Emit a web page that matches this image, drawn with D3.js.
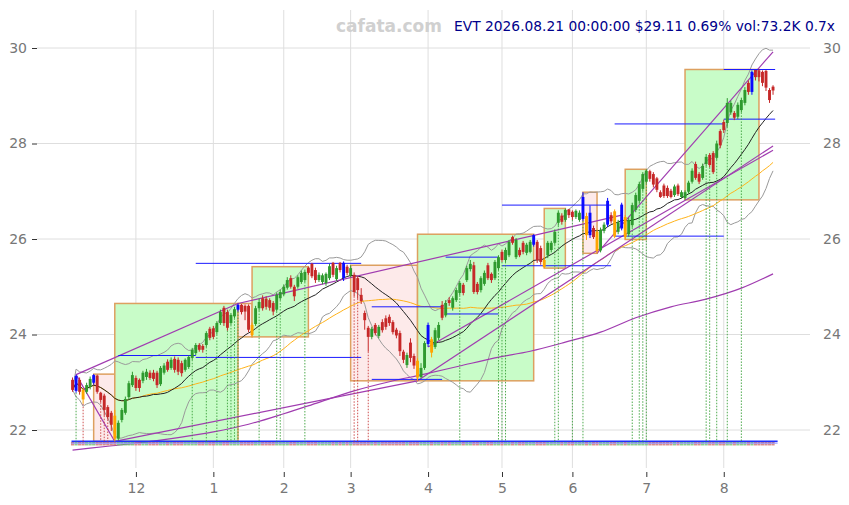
<!DOCTYPE html>
<html><head><meta charset="utf-8">
<script src="https://cdn.jsdelivr.net/npm/d3@7/dist/d3.min.js"></script>
<style>body{margin:0;background:#fff}svg{display:block}text{font-family:"DejaVu Sans",sans-serif}</style>
</head><body><svg id="c" width="849" height="505"></svg>
<script>
// ---- data ----
const opens = [
23.05,22.82,23.05,22.84,22.80,22.90,22.99,23.14,22.78,22.72,
22.48,22.36,22.30,21.82,22.21,22.36,22.69,22.94,23.09,23.05,
23.03,23.11,23.20,23.20,23.20,22.96,23.20,23.43,23.30,23.49,
23.47,23.40,23.26,23.32,23.51,23.61,23.78,23.76,23.78,24.12,
24.13,24.05,24.24,24.56,24.47,24.24,24.38,24.52,24.62,24.60,
24.60,24.20,24.22,24.55,24.76,24.75,24.72,24.66,24.52,24.76,
24.84,24.98,25.18,25.00,25.00,25.10,25.14,25.40,25.48,25.35,
25.14,25.10,25.08,25.18,25.50,25.16,25.50,25.18,25.42,25.24,
25.25,25.18,24.83,24.45,24.14,23.95,24.20,23.97,24.26,24.34,
24.37,24.26,24.10,24.03,23.64,23.36,23.83,23.55,23.45,23.11,
23.30,23.80,23.90,23.74,23.93,24.62,24.40,24.72,24.56,24.72,
24.87,25.04,25.14,25.37,25.45,25.06,24.93,25.06,25.45,25.27,
25.18,25.39,25.73,25.56,25.66,26.04,25.62,25.77,25.92,25.71,
25.73,25.88,25.94,25.81,25.56,25.66,25.77,25.92,26.34,26.49,
26.40,26.62,26.57,26.46,26.40,26.42,26.48,26.08,26.23,26.15,
25.76,26.17,26.30,26.50,26.58,26.15,26.22,26.46,26.10,26.29,
26.61,26.80,27.05,27.20,27.42,27.36,27.27,26.98,27.12,27.07,
27.01,26.92,27.12,26.88,26.86,26.99,27.20,27.57,27.36,27.28,
27.57,27.76,27.80,27.70,28.26,28.45,28.43,28.65,28.64,28.56,
28.70,28.85,29.27,29.08,29.54,29.53,29.50,29.52,29.12,29.19];
const highs = [
23.10,23.16,23.10,22.88,22.99,23.12,23.17,23.16,22.80,22.76,
22.52,22.40,22.42,22.20,22.46,22.70,23.03,23.22,23.14,23.08,
23.24,23.28,23.25,23.26,23.24,23.34,23.40,23.48,23.52,23.54,
23.52,23.45,23.50,23.56,23.72,23.82,23.82,23.80,24.07,24.16,
24.18,24.28,24.52,24.60,24.52,24.45,24.58,24.65,24.64,24.63,
24.63,24.25,24.60,24.75,24.82,24.80,24.76,24.70,24.88,24.94,
25.05,25.20,25.24,25.04,25.24,25.34,25.36,25.42,25.50,25.40,
25.30,25.28,25.30,25.48,25.52,25.44,25.52,25.53,25.46,25.45,
25.30,25.22,24.97,24.50,24.18,24.16,24.24,24.20,24.32,24.40,
24.42,24.30,24.14,24.08,23.68,23.62,23.92,23.60,23.50,23.40,
23.86,24.25,23.95,24.14,24.26,24.70,24.72,24.78,24.80,24.98,
25.12,25.08,25.44,25.56,25.52,25.10,25.22,25.34,25.50,25.30,
25.56,25.66,25.78,25.82,25.98,26.07,26.02,25.82,25.96,25.92,
25.98,26.10,25.98,25.86,25.62,25.96,25.96,26.20,26.60,26.54,
26.64,26.63,26.60,26.62,26.60,26.98,26.55,26.70,26.28,26.20,
26.24,26.35,26.86,26.56,26.62,26.40,26.76,26.50,26.45,26.76,
26.97,27.20,27.40,27.46,27.45,27.40,27.30,27.02,27.16,27.12,
27.05,27.14,27.16,27.02,27.02,27.22,27.48,27.62,27.40,27.58,
27.78,27.80,27.84,28.06,28.30,28.50,28.95,28.90,28.68,28.86,
28.96,29.18,29.32,29.53,29.54,29.56,29.53,29.54,29.16,29.22];
const lows = [
22.80,22.78,22.74,22.55,22.76,22.85,22.95,22.76,22.58,22.30,
22.22,21.98,21.76,21.78,22.16,22.32,22.63,22.90,22.82,22.80,
22.98,23.05,23.05,23.02,22.88,22.92,23.16,23.22,23.26,23.20,
23.15,23.12,23.22,23.28,23.47,23.57,23.64,23.62,23.74,23.88,
23.90,24.00,24.20,24.18,24.08,24.20,24.34,24.48,24.42,24.30,
24.05,23.95,24.18,24.50,24.50,24.52,24.50,24.40,24.48,24.72,
24.80,24.94,24.96,24.70,24.96,25.06,25.10,25.25,25.18,25.08,
25.10,25.05,25.02,25.14,25.20,25.12,25.30,25.12,25.24,25.20,
24.80,24.75,24.64,24.10,23.64,23.90,23.98,23.92,24.04,24.10,
24.18,24.00,23.92,23.55,23.40,23.30,23.42,23.28,23.03,23.08,
23.26,23.74,23.52,23.70,23.88,24.30,24.36,24.60,24.50,24.68,
24.82,24.82,25.10,25.32,24.85,24.84,24.88,25.02,25.14,25.08,
25.14,25.35,25.52,25.52,25.62,25.88,25.58,25.62,25.68,25.66,
25.70,25.84,25.50,25.46,25.39,25.60,25.72,25.88,26.28,26.30,
26.36,26.44,26.40,26.42,26.36,26.38,25.98,26.02,26.00,25.70,
25.72,26.12,26.25,26.32,26.02,26.10,26.18,25.99,26.05,26.24,
26.56,26.75,27.00,27.16,27.20,27.08,26.98,26.86,26.86,26.86,
26.85,26.88,26.90,26.85,26.82,26.95,27.16,27.24,27.15,27.24,
27.52,27.50,27.36,27.66,27.90,28.22,28.35,28.60,28.49,28.51,
28.65,28.80,29.02,29.02,29.32,29.30,29.20,29.10,28.85,29.02];
const closes = [
22.84,23.13,22.80,22.64,22.94,23.07,23.15,22.80,22.63,22.42,
22.27,22.11,21.82,22.15,22.42,22.65,22.98,23.15,22.88,22.88,
23.20,23.22,23.09,23.07,22.94,23.30,23.35,23.26,23.47,23.26,
23.22,23.19,23.47,23.53,23.68,23.78,23.68,23.68,24.03,23.93,
23.95,24.24,24.47,24.24,24.14,24.41,24.53,24.62,24.47,24.48,
24.10,23.99,24.55,24.68,24.55,24.58,24.56,24.48,24.83,24.89,
25.00,25.14,25.00,24.80,25.20,25.29,25.31,25.29,25.22,25.14,
25.25,25.24,25.27,25.43,25.25,25.39,25.35,25.50,25.29,25.39,
24.89,24.93,24.70,24.30,23.95,24.12,24.03,24.16,24.09,24.16,
24.24,24.05,23.98,23.65,23.47,23.57,23.51,23.35,23.10,23.30,
23.82,24.20,23.62,24.09,24.20,24.35,24.66,24.66,24.76,24.93,
25.08,24.87,25.39,25.48,24.89,24.89,25.18,25.29,25.18,25.14,
25.52,25.62,25.56,25.77,25.94,25.92,25.98,25.66,25.73,25.88,
25.94,26.08,25.56,25.52,25.41,25.92,25.92,26.15,26.55,26.36,
26.61,26.50,26.46,26.59,26.55,26.88,26.08,26.55,26.04,25.75,
26.19,26.30,26.80,26.37,26.05,26.35,26.72,26.04,26.40,26.71,
26.92,27.15,27.36,27.43,27.26,27.14,27.03,26.88,26.90,26.90,
26.88,27.10,26.94,26.98,26.98,27.18,27.43,27.28,27.20,27.53,
27.72,27.55,27.40,28.00,27.96,28.28,28.85,28.85,28.54,28.81,
28.91,29.12,29.08,29.50,29.39,29.39,29.27,29.17,28.91,29.11];
const blueBars   = [1,6,47,77,101,131,145,147,152,156,193];
const orangeBars = [3,12,51,98,102,134,146,149,154,157];
const monthTickBars = [18,40,60,79,101,122,142,163,185];
const monthLabels   = ["12","1","2","3","4","5","6","7","8"];
const yTicks = [22,24,26,28,30];
// swing boxes: [startBar, endBar, top, bottom, kind]
const boxes = [
 [6,12,23.17,21.76,"down"],[12,47,24.65,21.76,"up"],[47,51,24.65,23.95,"down"],
 [51,67,25.42,23.95,"up"],[79,98,25.45,23.03,"down"],[98,131,26.10,23.03,"up"],
 [134,140,26.64,25.39,"up"],[145,149,26.98,25.70,"down"],[157,163,27.46,25.99,"up"],
 [174,195,29.55,26.82,"up"]];
// horizontal levels: [startBar, endBar, price]
const levels = [
 [35,82,25.49],[13,35,23.56],[35,82,23.52],[85,105,24.58],[85,105,23.06],
 [106,121,25.62],[106,121,24.43],[122,153,26.71],[122,153,25.44],
 [154,185,26.06],[154,185,28.41],[185,199.6,28.51],[185,199.6,29.55]];
// trend lines: [bar1, price1, bar2, price2]
const trendLines = [
 [1,23.16,12,21.76],[1,23.16,47,24.65],[47,24.65,156,26.50],[12,21.76,98,23.03],
 [98,23.03,199,27.95],[101,23.74,199,27.86],[149,25.70,199,29.92]];
// long moving-average curve (purple), sampled
const longMaBars = [0,10,20,30,40,50,60,70,80,90,100,110,120,130,140,150,160,170,180,190,199];
const longMaVals = [21.58,21.66,21.74,21.84,21.96,22.12,22.34,22.58,22.82,23.01,23.17,23.34,23.51,23.65,23.84,24.05,24.35,24.58,24.74,24.97,25.27];
// signal markers (dotted verticals)
const greenSignals = [1,34,38,41,44,45,46,47,53,58,59,66,110,121,122,123,137,138,142,145,159,161,162,163,180,181,183,186,190];
const redSignals = [3,8,9,10,80,81,84];
const titleText = "EVT 2026.08.21 00:00:00 $29.11 0.69% vol:73.2K 0.7x";

// ---- drawing ----
const svg = d3.select("#c");
const n = closes.length;
const x = d3.scaleLinear().domain([-10.1, 209.5]).range([37, 810]);
const y = d3.scaleLinear().domain([22, 30]).range([430, 48]);
const UP="#2e9a2e", DN="#c62828", BLUE="#0a0aff", ORG="#ffa500";

// grid
const g = svg.append("g");
g.selectAll(".hg").data(yTicks).join("line")
 .attr("x1",37).attr("x2",810).attr("y1",d=>y(d)).attr("y2",d=>y(d))
 .attr("stroke","#dedede").attr("stroke-width",1);
g.selectAll(".vg").data(monthTickBars).join("line")
 .attr("x1",d=>x(d)).attr("x2",d=>x(d)).attr("y1",10).attr("y2",468)
 .attr("stroke","#dedede").attr("stroke-width",1);

// axes
const yl = d3.axisLeft(y).tickValues(yTicks).tickSize(5).tickPadding(5).tickFormat(d3.format("d"));
const ya = svg.append("g").attr("transform","translate(37,0)").call(yl);
ya.select(".domain").remove();
ya.selectAll("line").attr("stroke","#333");
ya.selectAll("text").attr("fill","#777").style("font-size","14px");
const yr = d3.axisRight(y).tickValues(yTicks).tickSize(0).tickPadding(13).tickFormat(d3.format("d"));
const yra = svg.append("g").attr("transform","translate(810,0)").call(yr);
yra.select(".domain").remove();
yra.selectAll("text").attr("fill","#777").style("font-size","14px");
const xa = d3.axisBottom(x).tickValues(monthTickBars).tickSize(5).tickPadding(6)
  .tickFormat((d,i)=>monthLabels[i]);
const xag = svg.append("g").attr("transform","translate(0,472)").call(xa);
xag.select(".domain").remove();
xag.selectAll("line").attr("stroke","#333");
xag.selectAll("text").attr("fill","#777").style("font-size","14px");

// boxes
svg.append("g").selectAll("rect").data(boxes).join("rect")
 .attr("x",d=>x(d[0])).attr("width",d=>x(d[1])-x(d[0]))
 .attr("y",d=>y(d[2])).attr("height",d=>y(d[3])-y(d[2]))
 .attr("fill",d=>d[4]==="up"?"#c8fcc8":"#fdeaea")
 .attr("stroke","#dda060").attr("stroke-width",1.5);

// indicators computed from closes
function sma(arr, w){ return arr.map((_,i)=>{const s=arr.slice(Math.max(0,i-w+1),i+1); return d3.mean(s);}); }
function sdev(arr, w){ return arr.map((_,i)=>{const s=arr.slice(Math.max(0,i-w+1),i+1); return s.length>1?d3.deviation(s)*Math.sqrt((s.length-1)/s.length):0;}); }
const m20 = sma(closes,20), s20 = sdev(closes,20), m50 = sma(closes,50);
const idx = d3.range(n);
const addPath=(pts,color,w,curve)=>svg.append("path").datum(pts)
  .attr("d",d3.line().x(d=>x(d[0])).y(d=>y(d[1])).curve(curve||d3.curveLinear)(pts))
  .attr("fill","none").attr("stroke",color).attr("stroke-width",w);
addPath(idx.map(i=>[i,m20[i]+2*s20[i]]),"#9a9a9a",1);
addPath(idx.map(i=>[i,m20[i]-2*s20[i]]),"#9a9a9a",1);
addPath(idx.map(i=>[i,m50[i]]),"#ffb31a",1);
addPath(idx.map(i=>[i,m20[i]]),"#222",1);
addPath(longMaBars.map((b,i)=>[b,longMaVals[i]]),"#a03cb0",1.2,d3.curveMonotoneX);

// trend lines
svg.append("g").selectAll("line").data(trendLines).join("line")
 .attr("x1",d=>x(d[0])).attr("y1",d=>y(d[1])).attr("x2",d=>x(d[2])).attr("y2",d=>y(d[3]))
 .attr("stroke","#a03cb0").attr("stroke-width",1.2);

// levels
svg.append("g").selectAll("line").data(levels).join("line")
 .attr("x1",d=>x(d[0])).attr("x2",d=>x(d[1])).attr("y1",d=>y(d[2])).attr("y2",d=>y(d[2]))
 .attr("stroke","#1a1aff").attr("stroke-width",1);

// bottom strip at the lowest low
const minLow = d3.min(lows);
const yb = y(minLow);
svg.append("g").selectAll("rect").data(idx).join("rect")
 .attr("x",i=>x(i)-1.6).attr("width",3.2).attr("y",yb+0.5).attr("height",3.5)
 .attr("fill",i=>closes[i]>=opens[i]?"#6fbf6f":"#d07070").attr("opacity",0.8);
svg.append("line").attr("x1",x(-0.3)).attr("x2",x(200.3)).attr("y1",yb).attr("y2",yb)
 .attr("stroke","#2030ff").attr("stroke-width",1.8);
svg.append("line").attr("x1",x(-0.3)).attr("x2",x(200.3)).attr("y1",yb+2).attr("y2",yb+2)
 .attr("stroke","#a0a0ff").attr("stroke-width",0.8);

// signal dotted lines
const sig = svg.append("g");
sig.selectAll(".gs").data(greenSignals).join("line")
 .attr("x1",d=>x(d)).attr("x2",d=>x(d)).attr("y1",d=>y(lows[d])).attr("y2",yb)
 .attr("stroke","#3aa03a").attr("stroke-width",0.9).attr("stroke-dasharray","1.5,1.5");
sig.selectAll(".rs").data(redSignals).join("line")
 .attr("x1",d=>x(d)).attr("x2",d=>x(d)).attr("y1",d=>y(lows[d])).attr("y2",yb)
 .attr("stroke","#c83c3c").attr("stroke-width",0.9).attr("stroke-dasharray","1.5,1.5");

// candles
const colorOf = i => blueBars.includes(i)?BLUE:orangeBars.includes(i)?ORG:(closes[i]>=opens[i]?UP:DN);
const cg = svg.append("g");
cg.selectAll("line").data(idx).join("line")
 .attr("x1",i=>x(i)).attr("x2",i=>x(i)).attr("y1",i=>y(highs[i])).attr("y2",i=>y(lows[i]))
 .attr("stroke",colorOf).attr("stroke-width",1);
cg.selectAll("rect").data(idx).join("rect")
 .attr("x",i=>x(i)-1.45).attr("width",2.9)
 .attr("y",i=>y(Math.max(opens[i],closes[i])))
 .attr("height",i=>Math.max(1,Math.abs(y(opens[i])-y(closes[i]))))
 .attr("fill",colorOf);

// texts
svg.append("text").attr("x",389).attr("y",32).attr("text-anchor","middle")
 .style("font-size","17px").style("font-weight","bold").attr("fill","#d0d0d0").text("cafata.com");
svg.append("text").attr("x",835).attr("y",31).attr("text-anchor","end")
 .style("font-size","13.8px").attr("fill","#00008b").text(titleText);
</script></body></html>
